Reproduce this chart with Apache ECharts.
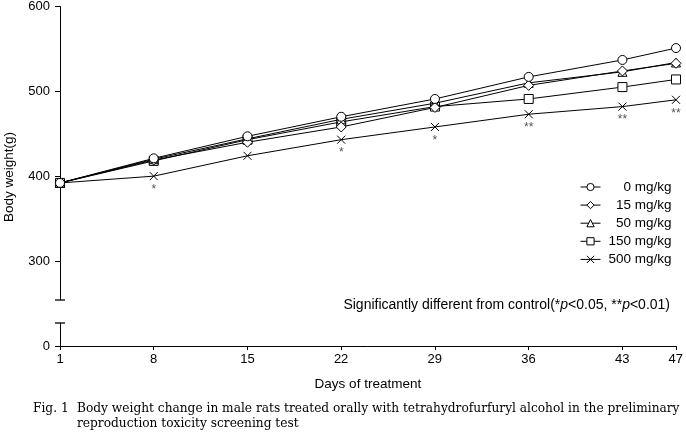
<!DOCTYPE html>
<html>
<head>
<meta charset="utf-8">
<script src="https://cdn.jsdelivr.net/npm/echarts@6/dist/echarts.min.js"></script>
<style>
html,body{margin:0;padding:0;background:#fff;}
#c{width:686px;height:437px;}
</style>
</head>
<body>
<div id="c"></div>
<script>
// ---- data ----
const days = [1, 8, 15, 22, 29, 36, 43, 47];
const xTickLabels = [1, 8, 15, 22, 29, 36, 43, 47];
const yTickLabels = [300, 400, 500, 600];
const seriesNames = ['0 mg/kg', '15 mg/kg', '50 mg/kg', '150 mg/kg', '500 mg/kg'];
const bw0   = [392, 421, 447, 470, 491, 517, 537, 551];
const bw15  = [392, 419, 440, 458, 481, 507, 524, 533];
const bw50  = [392, 420, 444, 467, 486, 510, 523, 534];
const bw150 = [392, 418, 443, 464, 482, 491, 505, 514];
const bw500 = [392, 400, 424, 443, 458, 473, 482, 490];
const sig500 = ['', '*', '', '*', '*', '**', '**', '**'];

const crossPath = 'path://M0,0L10,10M10,0L0,10';
const symbols = ['circle', 'diamond', 'triangle', 'rect', crossPath];
const symbolSizes = [9, 10, 9, 9, 8];
const allData = [bw0, bw15, bw50, bw150, bw500];

const chart = echarts.init(document.getElementById('c'));
const font = 'Liberation Sans, Arial, sans-serif';
const serif = 'DejaVu Serif, serif';

const series = allData.map((vals, i) => {
  const s = {
    name: seriesNames[i],
    type: 'line',
    xAxisIndex: 0,
    yAxisIndex: 0,
    data: vals.map((v, k) => [days[k], v]),
    symbol: symbols[i],
    symbolSize: symbolSizes[i],
    lineStyle: {color: '#000', width: 1},
    itemStyle: {color: i === 4 ? '#000' : '#fff', borderColor: '#000', borderWidth: 1},
    z: 10 - i,
    animation: false
  };
  if (i === 4) {
    s.label = {
      show: true,
      position: 'bottom',
      distance: 3,
      color: '#555',
      fontSize: 12,
      fontFamily: font,
      formatter: p => sig500[p.dataIndex]
    };
  }
  return s;
});

const option = {
  animation: false,
  backgroundColor: '#fff',
  textStyle: {fontFamily: font},
  grid: [
    {left: 60, right: 10, top: 6, height: 294},
    {left: 60, right: 10, top: 323, height: 23}
  ],
  xAxis: [
    {gridIndex: 0, type: 'value', min: 1, max: 47, show: false},
    {
      gridIndex: 1, type: 'value', min: 1, max: 47,
      axisLine: {lineStyle: {color: '#000', width: 1}},
      axisTick: {show: true, length: 4, lineStyle: {color: '#000'}, customValues: xTickLabels},
      axisLabel: {color: '#000', fontSize: 13, fontFamily: font, margin: 7, customValues: xTickLabels},
      splitLine: {show: false},
      name: 'Days of treatment',
      nameLocation: 'middle',
      nameGap: 31,
      nameTextStyle: {color: '#000', fontSize: 13.5, fontFamily: font}
    }
  ],
  yAxis: [
    {
      gridIndex: 0, type: 'value', min: 254, max: 600,
      axisLine: {show: true, lineStyle: {color: '#000', width: 1}, symbol: ['rect', 'none'], symbolSize: [10, 1.3]},
      axisTick: {show: true, length: 5, lineStyle: {color: '#000'}, customValues: yTickLabels},
      axisLabel: {color: '#000', fontSize: 13, fontFamily: font, margin: 10, customValues: yTickLabels},
      splitLine: {show: false}
    },
    {
      gridIndex: 1, type: 'value', min: 0, max: 27,
      axisLine: {show: true, lineStyle: {color: '#000', width: 1}, symbol: ['none', 'rect'], symbolSize: [10, 1.3]},
      axisTick: {show: true, length: 5, lineStyle: {color: '#000'}, customValues: [0]},
      axisLabel: {color: '#000', fontSize: 13, fontFamily: font, margin: 10, customValues: [0]},
      splitLine: {show: false}
    }
  ],
  legend: {
    data: seriesNames,
    orient: 'vertical',
    left: 575,
    top: 175,
    itemWidth: 20,
    itemHeight: 9,
    itemGap: 4.1,
    itemStyle: {borderWidth: 1},
    lineStyle: {width: 1},
    formatter: n => '{a|' + n + '}',
    textStyle: {
      color: '#000', fontSize: 13.5, fontFamily: font,
      rich: {a: {width: 66, align: 'right', fontSize: 13.5, fontFamily: font, color: '#000'}}
    }
  },
  title: {
    text: '{a|Significantly different from control(*}{i|p}{a|<0.05, **}{i|p}{a|<0.01)}',
    right: 16,
    top: 298,
    padding: 0,
    textStyle: {
      fontWeight: 'normal',
      rich: {
        a: {fontSize: 14, fontFamily: font, fontWeight: 'normal', color: '#000'},
        i: {fontSize: 14, fontFamily: font, fontWeight: 'normal', fontStyle: 'italic', color: '#000'}
      }
    }
  },
  graphic: [
    {
      type: 'text', x: 9, y: 177, rotation: Math.PI / 2,
      style: {text: 'Body weight(g)', fill: '#000', font: '13.5px ' + font, align: 'center', verticalAlign: 'middle'}
    },
    {
      type: 'text', x: 33, y: 409,
      style: {text: 'Fig. 1', fill: '#000', font: '12.2px ' + serif, verticalAlign: 'middle'}
    },
    {
      type: 'text', x: 77, y: 409,
      style: {text: 'Body weight change in male rats treated orally with tetrahydrofurfuryl alcohol in the preliminary', fill: '#000', font: '12.2px ' + serif, verticalAlign: 'middle'}
    },
    {
      type: 'text', x: 77, y: 424,
      style: {text: 'reproduction toxicity screening test', fill: '#000', font: '12.2px ' + serif, verticalAlign: 'middle'}
    }
  ],
  series: series
};
chart.setOption(option);
</script>
</body>
</html>
